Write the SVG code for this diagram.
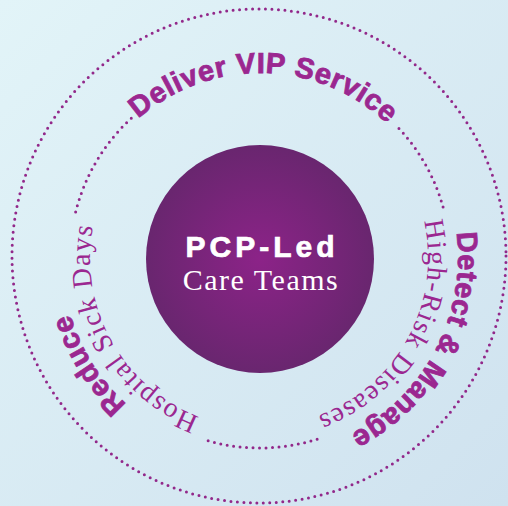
<svg xmlns="http://www.w3.org/2000/svg" xmlns:xlink="http://www.w3.org/1999/xlink" width="508" height="506" viewBox="0 0 508 506">
  <defs>
    <linearGradient id="bg" x1="0" y1="0" x2="1" y2="1">
      <stop offset="0" stop-color="#e2f4f8"/>
      <stop offset="1" stop-color="#cfe2ef"/>
    </linearGradient>
    <radialGradient id="hub" cx="0.5" cy="0.5" r="0.5">
      <stop offset="0" stop-color="#8c2388"/>
      <stop offset="1" stop-color="#69266f"/>
    </radialGradient>
    <path id="pTop" d="M76.10,237.86 A185,185 0 0,1 444.60,245.90"/>
    <path id="pRightBold" d="M367.11,91.47 A198,198 0 0,1 183.43,440.60"/>
    <path id="pRightSerif" d="M353.34,118.31 A168,168 0 0,1 192.34,411.77"/>
    <path id="pLeftSerif" d="M329.15,413.30 A170,170 0 0,1 164.94,117.06"/>
    <path id="pLeftBold" d="M349.89,434.42 A198,198 0 0,1 140.84,99.87"/>
  </defs>
  <style>
    .dots { fill: none; stroke: #92288a; stroke-width: 3; stroke-linecap: round; stroke-dasharray: 0 6.5; }
    .bold { font-family: "Liberation Sans", Arial, sans-serif; font-weight: 700; font-size: 29px; fill: #9b2790; stroke: #9b2790; stroke-width: 0.8px; letter-spacing: 0.6px; }
    .serif { font-family: "Liberation Serif", "Times New Roman", serif; font-size: 28px; fill: #9b2790; letter-spacing: 1.2px; }
    .hubBold { font-family: "Liberation Sans", Arial, sans-serif; font-weight: 700; font-size: 30px; fill: #ffffff; stroke: #ffffff; stroke-width: 0.7px; letter-spacing: 4px; }
    .hubSerif { font-family: "Liberation Serif", "Times New Roman", serif; font-size: 30px; fill: #ffffff; letter-spacing: 1.5px; }
  </style>

  <rect id="background" x="0" y="0" width="508" height="506" fill="url(#bg)"/>

  <g id="connectors">
    <circle id="outer-ring" class="dots" cx="259" cy="256" r="247"/>
    <path id="inner-ring-left" class="dots" d="M75.64,212.04 A190,190 0 0,1 132.87,116.80"/>
    <path id="inner-ring-right" class="dots" d="M398.96,128.42 A190,190 0 0,1 443.53,208.82"/>
    <path id="inner-ring-bottom" class="dots" d="M317.13,439.21 A190,190 0 0,1 202.87,439.21"/>
  </g>

  <g id="hub-node">
    <circle cx="260" cy="259" r="114" fill="url(#hub)"/>
    <text class="hubBold" x="262" y="257" text-anchor="middle">PCP-Led</text>
    <text class="hubSerif" x="261" y="290" text-anchor="middle">Care Teams</text>
  </g>

  <g id="deliver-node">
    <text class="bold"><textPath xlink:href="#pTop" href="#pTop" startOffset="50%" text-anchor="middle">Deliver VIP Service</textPath></text>
  </g>

  <g id="detect-node">
    <text class="bold"><textPath xlink:href="#pRightBold" href="#pRightBold" startOffset="50%" text-anchor="middle">Detect &amp; Manage</textPath></text>
    <text class="serif"><textPath xlink:href="#pRightSerif" href="#pRightSerif" startOffset="50%" text-anchor="middle">High-Risk Diseases</textPath></text>
  </g>

  <g id="reduce-node">
    <text class="bold"><textPath xlink:href="#pLeftBold" href="#pLeftBold" startOffset="50%" text-anchor="middle">Reduce</textPath></text>
    <text class="serif"><textPath xlink:href="#pLeftSerif" href="#pLeftSerif" startOffset="50%" text-anchor="middle">Hospital Sick Days</textPath></text>
  </g>
</svg>
